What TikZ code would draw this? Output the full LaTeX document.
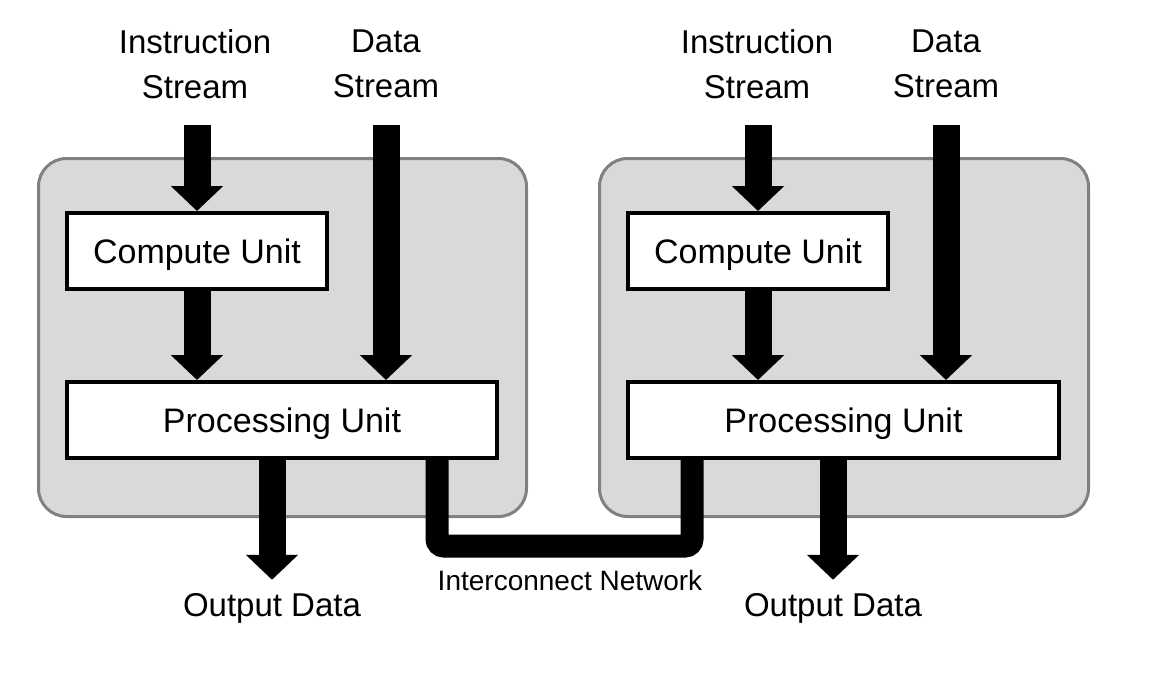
\documentclass[tikz,border=0pt]{standalone}
\usepackage{fontspec}
\setmainfont{Liberation Sans}
\usepackage{tikz}
\usetikzlibrary{arrows.meta}

\begin{document}
\begin{tikzpicture}[x=1pt,y=-1pt,
    cluster/.style={draw=gray,line width=3pt,fill=black!15,rounded corners=28pt},
    unitbox/.style={draw,line width=4pt,fill=white,inner sep=0pt,minimum height=76pt,text depth=0pt,font=\fontsize{34}{40}\selectfont},
    stream/.style={align=center,inner sep=0pt,font=\fontsize{33}{45}\selectfont},
    outlabel/.style={anchor=base,inner sep=0pt,font=\fontsize{33}{40}\selectfont},
    bigarrow/.style={line width=27pt,-{Triangle[width=51pt,length=25pt]}},
    netline/.style={line width=23pt,rounded corners=7pt}]

    \useasboundingbox (0,0) rectangle (1156,682);

    % the two nodes
    \draw[cluster] (38.5,158.5) rectangle (526.5,516.5);
    \draw[cluster] (599.5,158.5) rectangle (1088.5,516.5);

    \coordinate (top) at (0,125);
    \node[unitbox,minimum width=260pt] (cu1) at (197,251) {Compute Unit};
    \node[unitbox,minimum width=430pt] (pu1) at (282,420) {Processing Unit};
    \node[unitbox,minimum width=260pt] (cu2) at (758,251) {Compute Unit};
    \node[unitbox,minimum width=431pt] (pu2) at (843.5,420) {Processing Unit};

    % interconnect
    \coordinate (net1) at (437,546);
    \coordinate (net2) at (692,546);
    \draw[netline] (net1 |- pu1.south) -- (net1) -- (net2) -- (net2 |- pu2.south);
    \node[anchor=base,inner sep=0pt,font=\fontsize{28}{34}\selectfont] (net) at (570,590) {Interconnect Network};

    % left node
    \node[stream] (is1) at (195,64) {Instruction\\Stream};
    \node[stream] (ds1) at (386,64) {Data\\Stream};
    \node[outlabel] (od1) at (272,616) {Output Data};
    \draw[bigarrow] (cu1.center |- top) -- (cu1.north);
    \draw[bigarrow] (ds1 |- top) -- (ds1 |- pu1.north);
    \draw[bigarrow] (cu1.south) -- (cu1.south |- pu1.north);
    \draw[bigarrow] (od1 |- pu1.south) -- ([yshift=13pt]od1.north);

    % right node
    \node[stream] (is2) at (757,64) {Instruction\\Stream};
    \node[stream] (ds2) at (946,64) {Data\\Stream};
    \node[outlabel] (od2) at (833,616) {Output Data};
    \draw[bigarrow] (cu2.center |- top) -- (cu2.north);
    \draw[bigarrow] (ds2 |- top) -- (ds2 |- pu2.north);
    \draw[bigarrow] (cu2.south) -- (cu2.south |- pu2.north);
    \draw[bigarrow] (od2 |- pu2.south) -- ([yshift=13pt]od2.north);
\end{tikzpicture}
\end{document}
